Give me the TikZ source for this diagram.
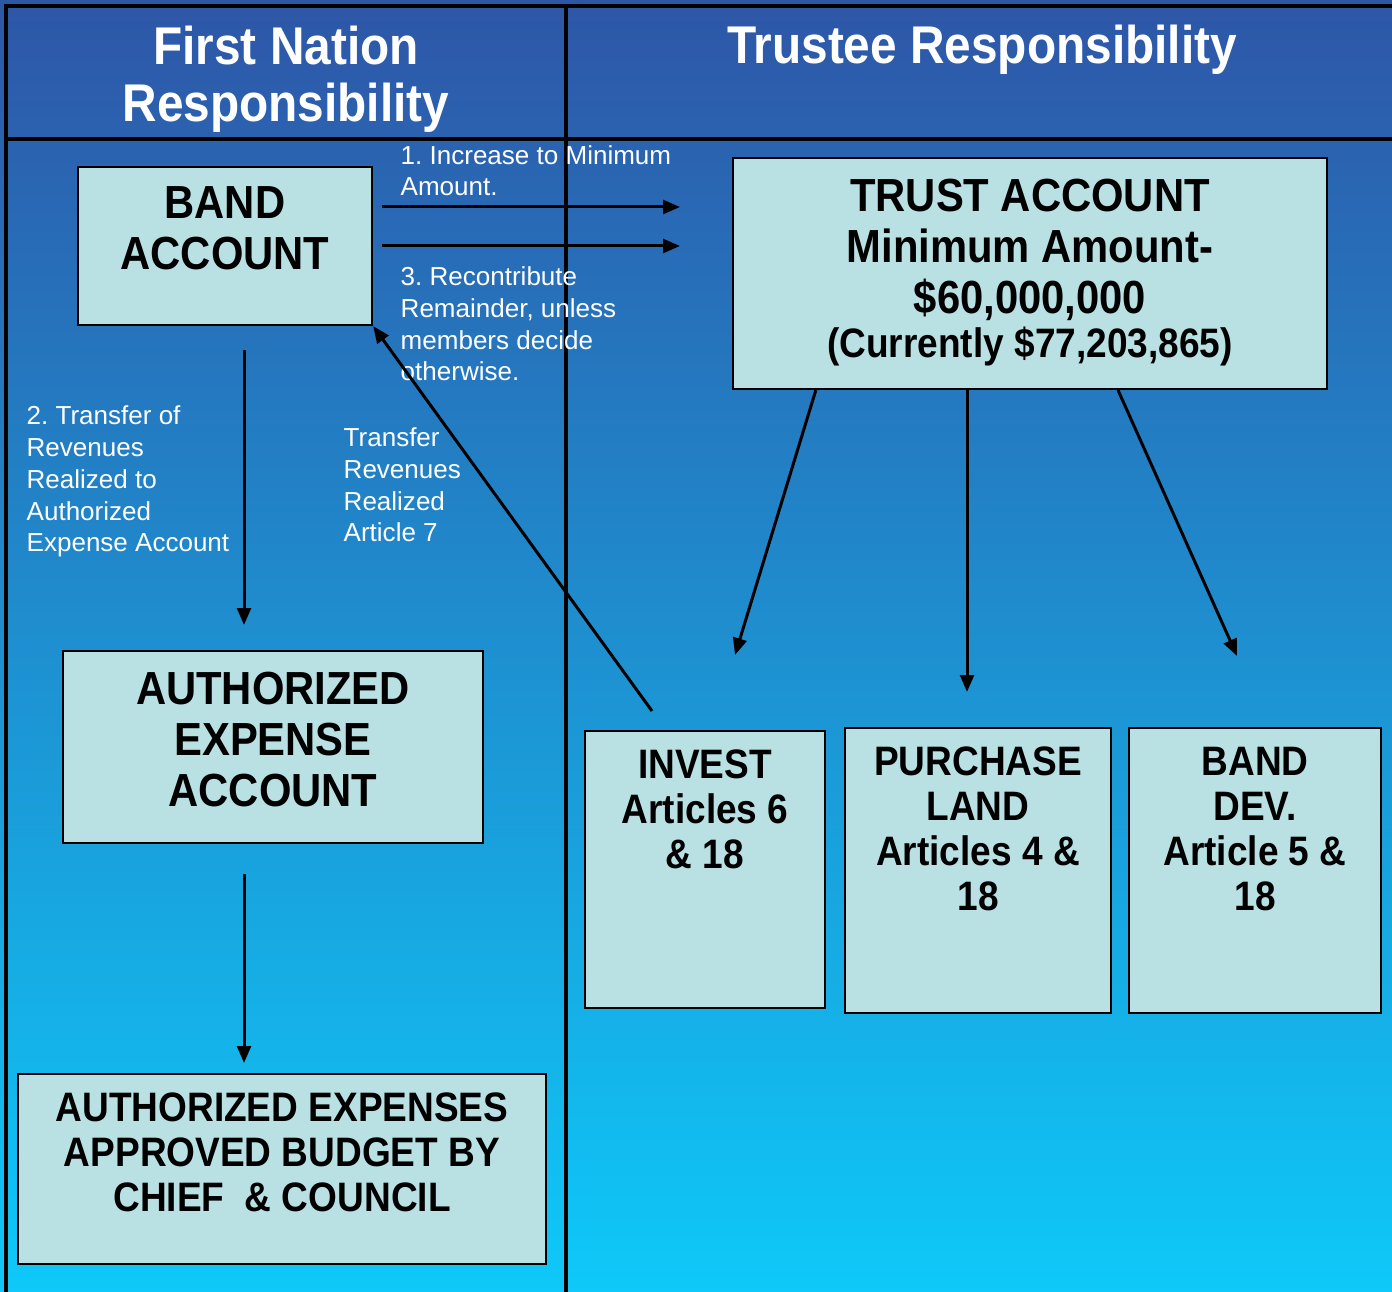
\documentclass[tikz,border=0pt]{standalone}
\usepackage{fontspec}
\setmainfont{Liberation Sans}
\newfontfamily\boxfont{Liberation Sans}[FakeStretch=0.9]
\usetikzlibrary{arrows.meta}
\definecolor{boxfill}{RGB}{185,225,228}
\definecolor{topblue}{RGB}{46,86,167}
\definecolor{botblue}{RGB}{14,201,249}
\begin{document}
\begin{tikzpicture}[x=0.01cm, y=-0.01cm, >={Triangle[length=4.8pt,width=3.9pt]},
        rule/.style={line width=0.9pt},
        flow/.style={->, line width=0.85pt},
        acct/.style={draw, line width=0.6pt, fill=boxfill, inner sep=0pt},
        bigtxt/.style={font=\boxfont\bfseries\fontsize{13.2pt}{14.5pt}\selectfont, align=center, anchor=base, inner sep=0pt},
        smalltxt/.style={font=\boxfont\bfseries\fontsize{11.7pt}{12.75pt}\selectfont, align=center, anchor=base, inner sep=0pt},
        note/.style={font=\fontsize{7.4pt}{9.07pt}\selectfont\frenchspacing, text=white, align=left, anchor=base west, inner sep=0pt},
        head/.style={font=\boxfont\bfseries\fontsize{15.1pt}{16.4pt}\selectfont, text=white, align=center, anchor=base, inner sep=0pt}]
        \useasboundingbox (0,0) rectangle (1392,1292);
        \fill[top color=topblue, bottom color=botblue] (0,0) rectangle (1392,1292);
        % frame of the two columns
        \draw[rule] (6,1292) -- (6,6) -- (1392,6);
        \draw[rule] (6,139) -- (1392,139);
        \draw[rule] (566,6) -- (566,1292);
        % base anchor = last line
        \node[head] (fnhead) at (286,122) {First Nation\\Responsibility};
        \node[head] (trhead) at (982,64) {Trustee Responsibility};
        % accounts
        \node[acct, minimum width=2.94cm, minimum height=1.58cm] (band) at (225,246) {};
        \node[bigtxt] (bandtxt) at (225,270) {BAND\\ACCOUNT};
        \node[acct, minimum width=5.94cm, minimum height=2.31cm] (trust) at (1030,273.5) {};
        \node[bigtxt] (trusttxt) at (1030,358) {TRUST ACCOUNT\\Minimum Amount-\\\$60,000,000\\[-1.75pt]{\fontsize{11.7pt}{12.75pt}\selectfont (Currently \$77,203,865)}};
        \node[acct, minimum width=4.2cm, minimum height=1.92cm] (auth) at (273,747) {};
        \node[bigtxt] (authtxt) at (273,806) {AUTHORIZED\\EXPENSE\\ACCOUNT};
        \node[acct, minimum width=5.28cm, minimum height=1.9cm] (budget) at (282,1169) {};
        \node[smalltxt] (budgettxt) at (282,1211) {AUTHORIZED EXPENSES\\APPROVED BUDGET BY\\CHIEF\ \ \& COUNCIL};
        \node[acct, minimum width=2.4cm, minimum height=2.77cm] (invest) at (705,869.5) {};
        \node[smalltxt] (investtxt) at (705,868) {INVEST\\Articles 6\\\& 18};
        \node[acct, minimum width=2.66cm, minimum height=2.85cm] (land) at (978,870.5) {};
        \node[smalltxt] (landtxt) at (978,910) {PURCHASE\\LAND\\Articles 4 \&\\18};
        \node[acct, minimum width=2.52cm, minimum height=2.85cm] (dev) at (1255,870.5) {};
        \node[smalltxt] (devtxt) at (1255,910) {BAND\\DEV.\\Article 5 \&\\18};
        % notes
        \node[note] (inc) at (400,196) {1. Increase to Minimum\\Amount.};
        \node[note] (recon) at (400,381) {3. Recontribute\\Remainder, unless\\members decide\\otherwise.};
        \node[note] (trans2) at (26,552) {2. Transfer of\\Revenues\\Realized to\\Authorized\\Expense Account};
        \node[note] (art7) at (343,542) {Transfer\\Revenues\\Realized\\Article 7};
        % arrows
        \coordinate (t1) at (680,207);
        \coordinate (t3) at (680,246);
        \coordinate (d2) at (244,625);
        \coordinate (d4) at (244,1063);
        \coordinate (up7) at (652,711);
        \coordinate (a6) at (735,655);
        \coordinate (a4) at (967,692);
        \coordinate (a5) at (1237,656);
        \draw[flow, shorten <=0.09cm] (band.east |- t1) -- (t1);
        \draw[flow, shorten <=0.09cm] (band.east |- t3) -- (t3);
        \draw[flow, shorten <=0.24cm] (band.south -| d2) -- (d2);
        \draw[flow, shorten <=0.30cm] (auth.south -| d4) -- (d4);
        \draw[flow] (up7) -- (band.south east);
        \draw[flow] ([xshift=0.84cm]trust.south west) -- (a6);
        \draw[flow] (trust.south -| a4) -- (a4);
        \draw[flow] ([xshift=3.86cm]trust.south west) -- (a5);
\end{tikzpicture}
\end{document}
